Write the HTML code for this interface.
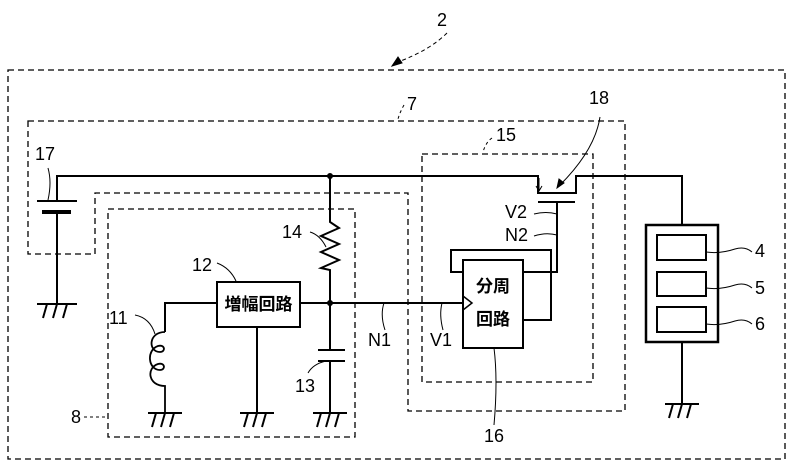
<!DOCTYPE html>
<html><head><meta charset="utf-8"><style>
html,body{margin:0;padding:0;background:#fff;}
svg{display:block;}
text{font-family:"Liberation Sans","Noto Sans CJK JP",sans-serif;fill:#000;}
</style></head><body>
<svg width="793" height="473" viewBox="0 0 793 473" xmlns="http://www.w3.org/2000/svg">
<g fill="none" stroke="#000" stroke-width="1.3" stroke-dasharray="6,4">
<rect x="8" y="70" width="777" height="389"/>
<path d="M28,121 H625 V411 H408 V193 H95 V254 H28 Z"/>
<rect x="108" y="209" width="247" height="228"/>
<rect x="422" y="154" width="171" height="228"/>
</g>
<g fill="none" stroke="#000" stroke-width="2">
<path d="M57,201 V176 H538 V193 H576 V176 H682 V225"/>
<path d="M37,201 H77"/>
<path d="M42,212 H71" stroke-width="4"/>
<path d="M57,212 V304"/>
<path d="M330,176 V222 L339,228 L321,236 L339,244 L321,252 L339,260 L321,268 L330,270 V350"/>
<path d="M318,350 H345 M318,361 H345 M330,361 V413"/>
<rect x="217" y="282" width="83" height="45"/>
<path d="M300,303 H463"/>
<path d="M257,327 V413"/>
<path d="M217,303 H165 V332"/>
<path d="M165,332 C148,332 148,352 160,352 C166,352 165,344 158,346 C146,350 148,370 160,370 C166,370 165,362 158,364 C146,368 148,386 165,386 V413" stroke-width="1.8"/>
<rect x="463" y="260" width="60" height="88"/>
<path d="M463,296 L472,303 L463,310" stroke-width="1.5"/>
<path d="M463,272 H451 V250 H551 V320 H523"/>
<path d="M523,272 H557 V202"/>
<path d="M538,202 H575"/>
<rect x="646" y="225" width="72" height="117" stroke-width="2.5"/>
<rect x="657" y="235" width="49" height="25"/>
<rect x="657" y="272" width="49" height="24"/>
<rect x="657" y="307" width="49" height="25"/>
<path d="M682,342 V404"/>
</g>
<g stroke="#000" stroke-width="2" fill="none">
<path d="M37,304 H77 M47,304 l-4,14 M57,304 l-4,14 M67,304 l-4,14"/>
<path d="M148,413 H182 M156,413 l-4,14 M165,413 l-4,14 M174,413 l-4,14"/>
<path d="M240,413 H274 M248,413 l-4,14 M257,413 l-4,14 M266,413 l-4,14"/>
<path d="M313,413 H347 M321,413 l-4,14 M330,413 l-4,14 M339,413 l-4,14"/>
<path d="M665,404 H699 M673,404 l-4,14 M682,404 l-4,14 M691,404 l-4,14"/>
</g>
<g fill="#000"><circle cx="330" cy="176" r="3"/><circle cx="330" cy="303" r="3"/></g>
<g fill="none" stroke="#000" stroke-width="1">
<path d="M447,33 Q430,50 398,62" stroke-dasharray="4,3"/>
<path d="M392,66 l10,-3 l-4,-6 z" fill="#000"/>
<path d="M404,105 Q400,112 398,119" stroke-dasharray="3,3"/>
<path d="M492,138 Q486,142 483,152" stroke-dasharray="3,3"/>
<path d="M600,117 Q595,150 560,185"/>
<path d="M557,188 l2,-9 l5,4 z" fill="#000"/>
<path d="M539,178 V190"/><path d="M536,186 l3,5 l3,-5" />
<path d="M48,168 Q52,182 48,200"/>
<path d="M310,232 Q320,235 326,247"/>
<path d="M217,263 Q230,268 236,281"/>
<path d="M135,315 Q150,318 155,334"/>
<path d="M308,373 Q313,364 326,361"/>
<path d="M84,417 H106" stroke-dasharray="3,3"/>
<path d="M384,303 Q380,315 385,330"/>
<path d="M442,303 Q439,315 443,330"/>
<path d="M494,348 Q498,380 494,425"/>
<path d="M534,214 Q546,211 557,214"/>
<path d="M534,236 Q546,232 557,235"/>
<path d="M706,252 Q720,254 735,249 Q745,246 752,252"/>
<path d="M706,288 Q720,290 735,285 Q745,282 752,288"/>
<path d="M706,324 Q720,326 735,321 Q745,318 752,324"/>
</g>
<g font-size="18">
<text x="437" y="26">2</text>
<text x="407" y="110">7</text>
<text x="496" y="141">15</text>
<text x="589" y="104">18</text>
<text x="35" y="160">17</text>
<text x="282" y="238">14</text>
<text x="192" y="271">12</text>
<text x="109" y="324">11</text>
<text x="295" y="392">13</text>
<text x="71" y="423">8</text>
<text x="368" y="346">N1</text>
<text x="430" y="346">V1</text>
<text x="484" y="442">16</text>
<text x="505" y="218">V2</text>
<text x="505" y="241">N2</text>
<text x="755" y="257">4</text>
<text x="755" y="294">5</text>
<text x="755" y="330">6</text>
</g>
<g font-size="17" font-weight="bold">
<text x="258.5" y="310" text-anchor="middle">増幅回路</text>
<text x="493" y="292" text-anchor="middle">分周</text>
<text x="493" y="325" text-anchor="middle">回路</text>
</g>
</svg>
</body></html>
